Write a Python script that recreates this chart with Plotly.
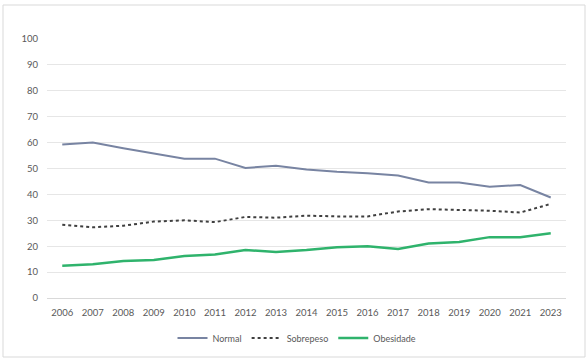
import plotly.graph_objects as go

years = ["2006", "2007", "2008", "2009", "2010", "2011", "2012", "2013", "2014",
         "2015", "2016", "2017", "2018", "2019", "2020", "2021", "2023"]
normal = [59.3, 60.0, 57.8, 55.8, 53.8, 53.8, 50.2, 51.1, 49.6, 48.7, 48.2, 47.3,
          44.6, 44.6, 43.0, 43.6, 38.8]
sobrepeso = [28.3, 27.3, 27.9, 29.5, 30.0, 29.3, 31.3, 31.0, 31.8, 31.5, 31.5, 33.4,
             34.3, 33.9, 33.7, 33.0, 36.3]
obesidade = [12.5, 13.0, 14.3, 14.7, 16.2, 16.8, 18.5, 17.8, 18.5, 19.6, 20.0, 18.9,
             21.0, 21.6, 23.5, 23.5, 25.0]
y_ticks = [0, 10, 20, 30, 40, 50, 60, 70, 80, 90, 100]

fig = go.Figure()
fig.add_trace(go.Scatter(x=years, y=normal, name="Normal", mode="lines",
                         line=dict(color="#7884A2", width=2)))
fig.add_trace(go.Scatter(x=years, y=sobrepeso, name="Sobrepeso", mode="lines",
                         line=dict(color="#3f3f3f", width=2, dash="dot")))
fig.add_trace(go.Scatter(x=years, y=obesidade, name="Obesidade", mode="lines",
                         line=dict(color="#2FB36C", width=2.5)))

L, R, T, B = 47, 22, 39, 63
W, H = 588, 361
pw, ph = W - L - R, H - T - B

def px_x(p):
    return (p - L) / pw

def px_y(p):
    return (H - B - p) / ph

fig.add_shape(type="rect", xref="paper", yref="paper",
              x0=px_x(3), x1=px_x(585), y0=px_y(357), y1=px_y(5),
              line=dict(color="#D9D9D9", width=1), fillcolor="rgba(0,0,0,0)",
              layer="below")

fig.update_layout(
    width=W, height=H,
    margin=dict(l=L, r=R, t=T, b=B, autoexpand=False),
    paper_bgcolor="white", plot_bgcolor="white",
    font=dict(family="Lato, 'Open Sans', sans-serif", size=9.5, color="#595959"),
    showlegend=True,
    legend=dict(orientation="h", x=px_x(297), xanchor="center", y=px_y(338), yanchor="middle",
                font=dict(size=9, color="#595959"), itemwidth=30, tracegroupgap=0),
    xaxis=dict(type="category", showgrid=False, showline=True, linecolor="#D9D9D9",
               linewidth=1, ticks="", ticklabelstandoff=6, zeroline=False,
               automargin=False, range=[-0.5, len(years) - 0.5]),
    yaxis=dict(range=[0, 100], tickvals=y_ticks, showgrid=True, gridcolor="#E6E6E6",
               gridwidth=1, zeroline=False, showline=False, ticks="",
               automargin=False, ticklabelstandoff=8),
)

fig.write_html("out.html", config={"displayModeBar": False},
               post_script="document.body.style.margin='0';document.body.style.overflow='hidden';")
